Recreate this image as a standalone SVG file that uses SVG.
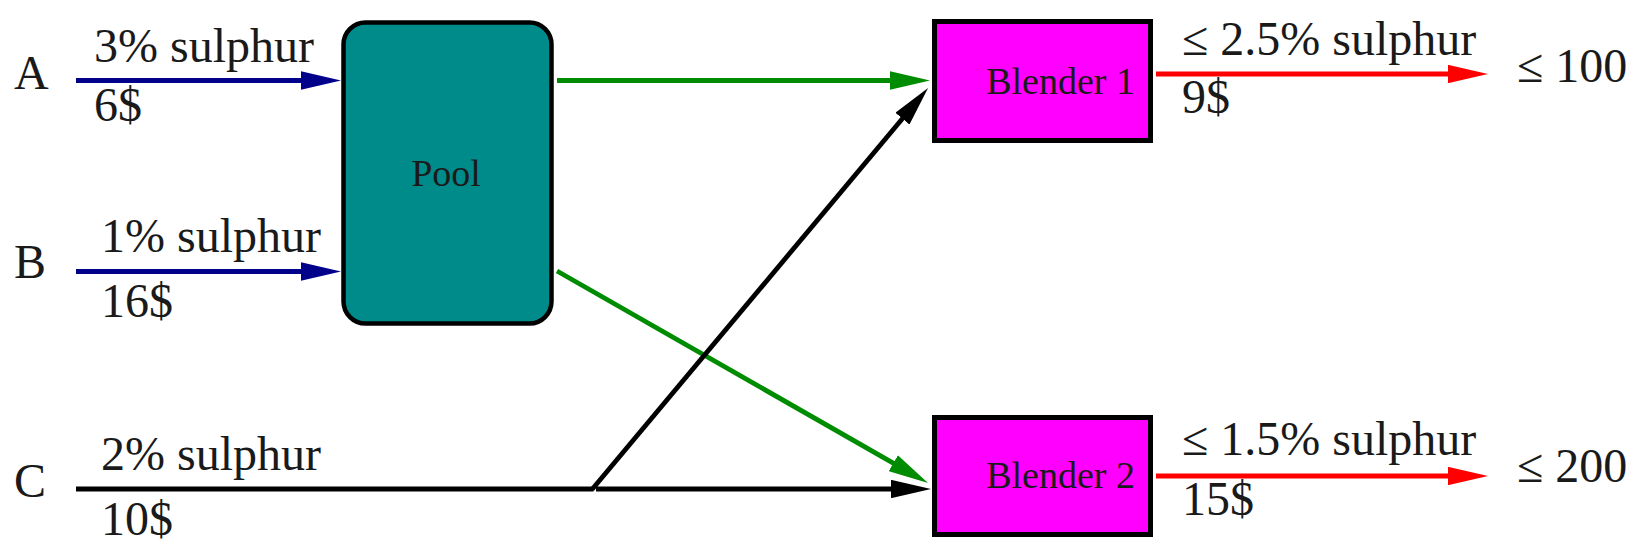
<svg xmlns="http://www.w3.org/2000/svg" width="1644" height="554" viewBox="0 0 1644 554">
<style>
text{font-family:"Liberation Serif","DejaVu Serif",serif;fill:#1a1a1a}
.lbl{font-size:48px}
.node{font-size:38px}
.c{fill:none;stroke-width:4.8;stroke-linecap:butt}
.blue{stroke:#00008b;stroke-width:5.2}
.green{stroke:#008c00}
.black{stroke:#000}
.red{stroke:#ff0000;stroke-width:5.2}
</style>
<defs>
<marker id="hb" markerUnits="userSpaceOnUse" viewBox="0 0 40 18.4" markerWidth="40" markerHeight="18.4" refX="10" refY="9.2" orient="auto"><path d="M0,0 L40,9.2 L0,18.4 Z" fill="#00008b"/></marker>
<marker id="hg" markerUnits="userSpaceOnUse" viewBox="0 0 40 18.4" markerWidth="40" markerHeight="18.4" refX="10" refY="9.2" orient="auto"><path d="M0,0 L40,9.2 L0,18.4 Z" fill="#008c00"/></marker>
<marker id="hk" markerUnits="userSpaceOnUse" viewBox="0 0 40 18.4" markerWidth="40" markerHeight="18.4" refX="10" refY="9.2" orient="auto"><path d="M0,0 L40,9.2 L0,18.4 Z" fill="#000"/></marker>
<marker id="hr" markerUnits="userSpaceOnUse" viewBox="0 0 40 18.4" markerWidth="40" markerHeight="18.4" refX="10" refY="9.2" orient="auto"><path d="M0,0 L40,9.2 L0,18.4 Z" fill="#ff0000"/></marker>
</defs>
<rect width="1644" height="554" fill="#fff"/>

<g id="connectors">
<line class="c blue" x1="76" y1="80.5" x2="311" y2="80.5" marker-end="url(#hb)"/>
<line class="c blue" x1="76" y1="271.5" x2="311" y2="271.5" marker-end="url(#hb)"/>
<line class="c green" x1="557" y1="80.5" x2="900" y2="80.5" marker-end="url(#hg)"/>
<line class="c green" x1="557" y1="271" x2="902" y2="468.1" marker-end="url(#hg)"/>
<line class="c black" x1="76" y1="489" x2="593.5" y2="489"/>
<line class="c black" x1="592" y1="489.5" x2="908.8" y2="111" marker-end="url(#hk)"/>
<line class="c black" x1="596" y1="489" x2="901" y2="489" marker-end="url(#hk)"/>
<line class="c red" x1="1156" y1="74" x2="1458" y2="74" marker-end="url(#hr)"/>
<line class="c red" x1="1156" y1="476" x2="1458" y2="476" marker-end="url(#hr)"/>
<text class="lbl" x="94" y="62">3% sulphur</text>
<text class="lbl" x="94" y="121">6$</text>
<text class="lbl" x="101" y="252">1% sulphur</text>
<text class="lbl" x="101" y="317">16$</text>
<text class="lbl" x="101" y="470">2% sulphur</text>
<text class="lbl" x="101" y="535">10$</text>
<text class="lbl" x="1182" y="55">≤ 2.5% sulphur</text>
<text class="lbl" x="1182" y="113">9$</text>
<text class="lbl" x="1182" y="455">≤ 1.5% sulphur</text>
<text class="lbl" x="1182" y="515">15$</text>
</g>

<g id="A"><text class="lbl" x="14" y="89">A</text></g>
<g id="B"><text class="lbl" x="14" y="278">B</text></g>
<g id="C"><text class="lbl" x="14" y="497">C</text></g>

<g id="pool">
<rect x="343.5" y="22.5" width="208" height="301" rx="22" fill="#008b8b" stroke="#000" stroke-width="4.5"/>
<text class="node" x="446" y="186" text-anchor="middle">Pool</text>
</g>

<g id="blender1">
<rect x="934.5" y="21.5" width="216" height="119" fill="#ff00ff" stroke="#000" stroke-width="5"/>
<text class="node" x="1135" y="94" text-anchor="end">Blender 1</text>
</g>

<g id="blender2">
<rect x="934.5" y="417.5" width="216" height="117" fill="#ff00ff" stroke="#000" stroke-width="5"/>
<text class="node" x="1135" y="488" text-anchor="end">Blender 2</text>
</g>

<g id="out1"><text class="lbl" x="1517" y="82">≤ 100</text></g>
<g id="out2"><text class="lbl" x="1517" y="482">≤ 200</text></g>
</svg>
